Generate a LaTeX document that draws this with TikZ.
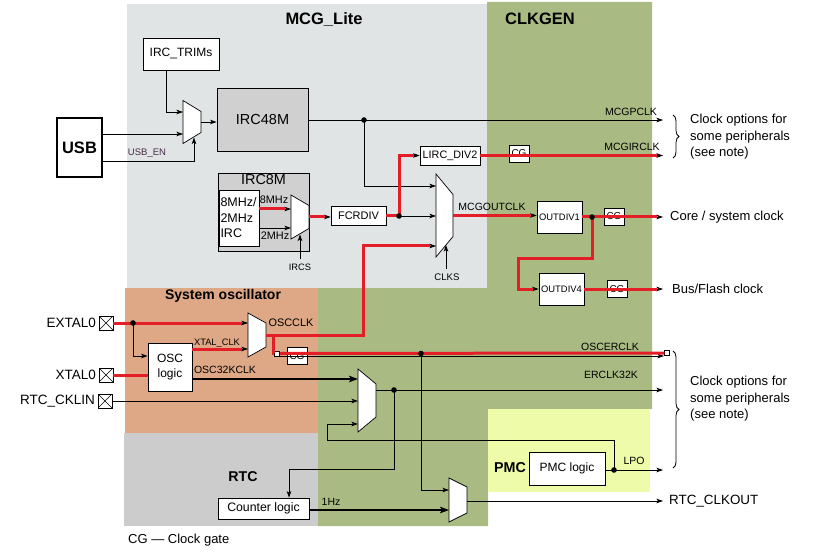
\documentclass[tikz,border=0pt]{standalone}
\usepackage{fontspec}
\setmainfont{Liberation Sans}
\usetikzlibrary{arrows.meta, calc, positioning, decorations.pathreplacing}

\definecolor{grismcg}{HTML}{E1E4E5}
\definecolor{verdegen}{HTML}{A9BB82}
\definecolor{naranjaosc}{HTML}{DEA886}
\definecolor{grisrtc}{HTML}{CCCCCC}
\definecolor{amarillopmc}{HTML}{EEFBA8}
\definecolor{grisbloque}{HTML}{D0D0D0}
\definecolor{rojoreloj}{HTML}{E41E26}
\definecolor{moradousb}{HTML}{4A2A4A}

\newcommand{\tam}[2]{\fontsize{#1}{#2}\selectfont}

\tikzset{
  caja/.style={draw, fill=white, line width=0.7pt, inner sep=0pt, align=center},
  cg/.style={caja, minimum width=20pt, minimum height=17pt, font=\tam{10}{12}},
  con/.style={line width=0.8pt, -{Stealth[length=6.5pt,width=4.5pt,inset=1.5pt]}},
  congrueso/.style={line width=2.4pt, -{Stealth[length=9pt,width=6.5pt,inset=2pt]}},
  rojo/.style={draw=rojoreloj, line width=3pt},
  rojocon/.style={con, postaction={draw=rojoreloj, line width=3pt, -, shorten >=6pt}},
  etq/.style={font=\tam{10.5}{12}, inner sep=0pt},
  titulo/.style={font=\bfseries\tam{16.5}{19}, inner sep=0pt},
  texto/.style={anchor=west, align=left, inner sep=0pt, font=\tam{13}{16.5}},
  pin/.style={draw, fill=white, line width=0.7pt, minimum size=14pt, inner sep=0pt,
    path picture={\draw[line width=0.5pt] (path picture bounding box.north west) -- (path picture bounding box.south east)
      (path picture bounding box.south west) -- (path picture bounding box.north east);}},
  cuadrito/.style={draw, fill=white, line width=0.5pt, minimum size=5pt, inner sep=0pt},
  muxlinea/.style={draw, fill=white, line width=0.7pt},
  llave/.style={line width=0.8pt, decorate, decoration={brace, amplitude=6pt}},
}

% multiplexor: nombre, posicion, ancho, alto izq, alto der
\newcommand{\muxnodo}[5]{%
  \node[minimum width=#3pt, minimum height=#4pt, inner sep=0pt, outer sep=0pt] (#1) at #2 {};
  \draw[muxlinea] (#1.north west) -- ([yshift={-(#4-#5)/2}]#1.north east)
    -- ([yshift={(#4-#5)/2}]#1.south east) -- (#1.south west) -- cycle;
}

\begin{document}
\begin{tikzpicture}[x=1pt, y=-1pt]
\useasboundingbox (0,0) rectangle (813,553);
% Regiones
\fill[grismcg] (127,4) rectangle (487,288);
\fill[verdegen] (487,2) -- (652,2) -- (652,409) -- (488,409) -- (488,526) -- (318,526) -- (318,288) -- (487,288) -- cycle;
\fill[naranjaosc] (125,288) rectangle (318,433);
\fill[grisrtc] (124,433) rectangle (318,526);
\fill[amarillopmc] (488,409) rectangle (650,492);
% Titulos
\node[titulo] (tMCG) at (324,20) {MCG\_Lite};
\node[titulo] (tGEN) at (540,19) {CLKGEN};
\node[titulo, font=\bfseries\tam{14}{16}] (tOSC) at (223,296) {System oscillator};
\node[titulo, font=\bfseries\tam{14.2}{16}] (tRTC) at (243,477) {RTC};
\node[titulo, font=\bfseries\tam{14.3}{16}] (tPMC) at (510,468) {PMC};

% Bloques
\node[caja, line width=1.4pt, minimum width=45pt, minimum height=59pt, font=\bfseries\tam{16.5}{19}] (USB) at (79.5,147.5) {USB};
\node[caja, minimum width=76pt, minimum height=32pt, font=\tam{12}{14}] (TRIM) at (181,54) {IRC\_TRIMs};
\node[caja, fill=grisbloque, minimum width=91pt, minimum height=63pt, font=\tam{14.5}{17}] (IRC48) at (262.5,119.5) {IRC48M};
\node[caja, fill=grisbloque, minimum width=91pt, minimum height=78pt,
  label={[font=\tam{14.4}{17}, anchor=north, inner sep=1.5pt]north:IRC8M}] (IRC8) at (263.5,212) {};
\node[caja, minimum width=40pt, minimum height=56pt, text width=37pt, align=left, font=\tam{12.5}{15.5}] (IRCin) at (239,218) {8MHz/\\2MHz\\IRC};
\node[caja, minimum width=60pt, minimum height=19pt, font=\tam{10.8}{13}] (LIRC) at (450,155.5) {LIRC\_DIV2};
\node[caja, minimum width=55pt, minimum height=19pt, font=\tam{11}{13}] (FCR) at (358.5,215.5) {FCRDIV};
\node[caja, minimum width=45pt, minimum height=32pt, font=\tam{9.4}{11}] (OD1) at (559.5,217) {OUTDIV1};
\node[caja, minimum width=45pt, minimum height=32pt, font=\tam{9.4}{11}] (OD4) at (561.5,289) {OUTDIV4};
\node[caja, minimum width=44pt, minimum height=48pt, font=\tam{12}{15}] (OSCL) at (170,367) {OSC\\logic};
\node[caja, minimum width=91pt, minimum height=21pt, font=\tam{12.3}{14}] (CNT) at (263.5,508.5) {Counter logic};
\node[caja, minimum width=76pt, minimum height=33pt, font=\tam{12}{14}] (PMCL) at (567,468.5) {PMC logic};
% Puertas de reloj
\node[cg] (cg1) at (519,153.5) {CG};
\node[cg] (cg2) at (614,216.5) {CG};
\node[cg] (cg3) at (617,289) {CG};
\node[cg] (cg4) at (297,356) {CG};
% Pines
\node[pin, label={[font=\tam{13.5}{15}, inner sep=2.5pt]left:EXTAL0}] (pEX) at (106,323) {};
\node[pin, label={[font=\tam{13.5}{15}, inner sep=2.5pt]left:XTAL0}] (pXT) at (106,375) {};
\node[pin, label={[font=\tam{13.5}{15}, inner sep=2.5pt]left:RTC\_CKLIN}] (pRTC) at (105,401) {};
% Multiplexores
\muxnodo{mT}{(192,122)}{18}{43}{21}
\muxnodo{mIRCS}{(300,217)}{18}{44}{23}
\muxnodo{mCLKS}{(444.5,215.5)}{17}{83}{42}
\muxnodo{mOSC}{(257,335)}{18}{44}{24}
\muxnodo{mER}{(367,400.5)}{18}{63}{33}
\muxnodo{mRTC}{(458,500)}{18}{44}{26}
% Uniones y salidas
\coordinate (d1) at (364,120);
\coordinate (d2) at (399,216);
\coordinate (d3) at (592,217);
\coordinate (d4) at (133,323);
\coordinate (d5) at (421,353.5);
\coordinate (d6) at (394,390);
\coordinate (d7) at (614,470);
\coordinate (oPCLK) at (663,120);
\coordinate (oIRCLK) at (663,155.5);
\coordinate (oCore) at (663,217);
\coordinate (oBus) at (663,289);
\coordinate (oOSCER) at (664,356);
\coordinate (oER32) at (663,390);
\coordinate (oLPO) at (663,470);
\coordinate (oRTC) at (663,501);
\coordinate (cIRCS) at (300,259);
\coordinate (cCLKS) at (446,269);

% USB e IRC48M
\draw[con] (TRIM.south -| 166,0) |- (mT.west |- 0,112);
\draw[con] (USB.east |- 0,134) -- (mT.west |- 0,134);
\draw[con] (USB.east |- 0,161) -| (194,137.5);
\node[etq, font=\tam{9.5}{11}, text=moradousb] (lUSB) at (147,153) {USB\_EN};
\draw[con] (mT.east) -- (mT.east -| IRC48.west);
\draw[con] (IRC48.east |- 0,120) -- (oPCLK);
\node[etq] (lPCLK) at (631,112) {MCGPCLK};
\draw[con] (d1) |- (mCLKS.west |- 0,186);

% IRC8M y FCRDIV
\draw[rojocon] (IRCin.east |- 0,209) -- (mIRCS.west |- 0,209);
\draw[con] (IRCin.east |- 0,228) -- (mIRCS.west |- 0,228);
\node[etq, font=\tam{10.9}{12}] (l8) at (274,200) {8MHz};
\node[etq, font=\tam{10.9}{12}] (l2) at (275,236) {2MHz};
\draw[con] (cIRCS) -- (300,234.5);
\node[etq, font=\tam{9.3}{11}] (lIRCS) at (300,267) {IRCS};
\draw[rojocon] (mIRCS.east) -- (mIRCS.east -| FCR.west);
\draw[rojo] (FCR.east) -- (FCR.east -| d2);
\draw[con] (d2) -- (d2 -| mCLKS.west);
\draw[rojocon] (d2) |- (LIRC.west);
\draw[rojocon] (LIRC.east) -- (oIRCLK);
\node[etq] (lIRCLK) at (632,147) {MCGIRCLK};

% CLKS y divisores
\draw[con] (cCLKS) -- (446,245);
\node[etq, font=\tam{9.6}{11}] (lCLKS) at (447,277) {CLKS};
\draw[rojocon] (mCLKS.east) -- (mCLKS.east -| OD1.west);
\node[etq] (lOUT) at (492,207) {MCGOUTCLK};
\draw[rojo] (OD1.east) -- (d3);
\draw[rojocon] (d3) -- (oCore);
\node[texto] (tCore) at (670,217) {Core / system clock};
\draw[rojocon] (d3) |- (518,258) |- (OD4.west);
\draw[rojocon] (OD4.east) -- (oBus);
\node[texto] (tBus) at (672,289) {Bus/Flash clock};

% Oscilador del sistema
\draw[rojocon] (pEX.east) -- (pEX.east -| mOSC.west);
\draw[con] (d4) |- (OSCL.west |- 0,356);
\draw[rojo] (pXT.east) -- (pXT.east -| OSCL.west);
\draw[rojocon] (OSCL.east |- 0,349) -- (mOSC.west |- 0,349);
\node[etq, font=\tam{9.3}{11}] (lXT) at (217,343) {XTAL\_CLK};
\draw[congrueso] (OSCL.east |- 0,379) -- (mER.west |- 0,379);
\node[etq] (l32) at (225,370) {OSC32KCLK};
\draw[con] (pRTC.east) -- (pRTC.east -| mER.west);
\node[etq, font=\tam{10.9}{12}] (lOSCCLK) at (291,323) {OSCCLK};
\draw[rojocon] (mOSC.east) -| (363,246) -- (mCLKS.west |- 0,246);

% OSCERCLK
\node[cuadrito] (sqA) at (277,353.5) {};
\node[cuadrito] (sqB) at (667,353) {};
\draw[con] (sqA.east |- 0,356) -- (oOSCER);
\draw[rojo] (273,335) |- (sqA.west);
\draw[rojo] (sqA.east) -- (sqB.west);
\node[etq] (lER) at (610,347) {OSCERCLK};
\draw[con] (d5) |- (mRTC.west |- 0,490);

% ERCLK32K y LPO
\draw[con] (mER.east |- 0,390) -- (oER32);
\node[etq] (lER32) at (611,375) {ERCLK32K};
\draw[con] (d6) |- (289,469) -- (CNT.north -| 289,0);
\draw[con] (PMCL.east |- 0,470) -- (oLPO);
\draw[con] (d7) |- (327,440) |- (mER.west |- 0,424);
\node[etq] (lLPO) at (634,461) {LPO};

% RTC
\draw[congrueso] (CNT.east |- 0,510) -- (mRTC.west |- 0,510);
\node[etq] (l1Hz) at (331,502) {1Hz};
\draw[con] (mRTC.east |- 0,501) -- (oRTC);
\node[texto, font=\tam{13.4}{15}] (tRTCout) at (669,501) {RTC\_CLKOUT};

% Puntos de union
\foreach \p in {d1,d2,d3,d4,d5,d6,d7}
  \fill (\p) circle (2.8pt);

% Llaves y notas
\draw[llave] (673,115) -- (673,158);
\node[texto] (nota1) at (690,137) {Clock options for\\some peripherals\\(see note)};
\draw[llave] (673,351) -- (673,468);
\node[texto] (nota2) at (690,399) {Clock options for\\some peripherals\\(see note)};
\node[texto] (pie) at (128,540) {CG — Clock gate};
\end{tikzpicture}
\end{document}
